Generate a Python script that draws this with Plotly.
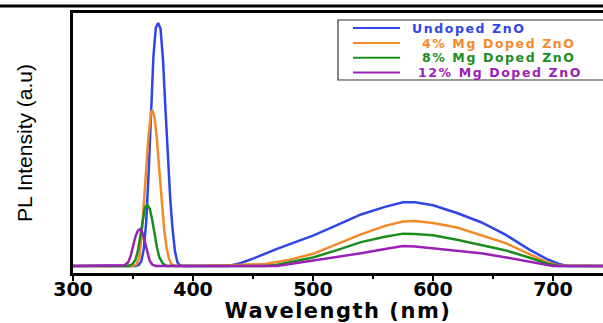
import plotly.graph_objects as go

# ---- data ----
undoped_wl = [300, 352, 355, 357, 359, 361, 363, 365, 367, 369, 371, 373, 375, 377, 379, 381, 383, 385, 387, 389, 392,
              430, 440, 450, 470, 490, 500, 520, 540, 560, 575, 585, 600, 620, 640, 660, 680, 695, 705, 712, 745]
undoped_int = [0, 0, 5, 20, 70, 180, 380, 650, 860, 980, 1000, 975, 850, 650, 450, 280, 150, 60, 15, 3, 0,
               0, 12, 30, 70, 105, 125, 168, 212, 243, 262, 262, 250, 218, 180, 130, 68, 28, 8, 0, 0]

mg4_wl = [300, 350, 353, 355, 357, 359, 361, 363, 365, 366, 368, 370, 372, 374, 376, 378, 380, 382, 385,
          430, 460, 480, 500, 520, 540, 560, 575, 585, 600, 620, 640, 660, 680, 695, 705, 745]
mg4_int = [0, 0, 8, 30, 110, 250, 400, 540, 630, 642, 610, 520, 390, 260, 150, 75, 30, 8, 0,
           3, 8, 25, 50, 90, 130, 165, 183, 185, 177, 158, 128, 95, 50, 15, 2, 0]

mg8_wl = [300, 346, 349, 352, 354, 356, 358, 360, 362, 364, 366, 368, 370, 372, 375, 378,
          460, 470, 490, 500, 520, 540, 560, 575, 585, 600, 620, 640, 660, 680, 695, 705, 745]
mg8_int = [0, 0, 5, 25, 60, 120, 190, 240, 251, 235, 190, 130, 75, 35, 10, 0,
           0, 5, 25, 35, 65, 98, 120, 133, 132, 126, 108, 88, 65, 35, 10, 0, 0]

mg12_wl = [300, 340, 343, 346, 348, 350, 352, 354, 356, 358, 360, 362, 364, 366, 369,
           470, 490, 500, 520, 540, 560, 575, 585, 600, 620, 640, 660, 680, 695, 700, 745]
mg12_int = [0, 0, 3, 15, 40, 80, 120, 145, 152, 135, 95, 50, 20, 6, 0,
            0, 15, 22, 35, 52, 70, 82, 80, 72, 64, 52, 36, 18, 3, 0, 0]

names = ["Undoped ZnO", "4% Mg Doped ZnO", "8% Mg Doped ZnO", "12% Mg Doped ZnO"]
colors = ["#2E46E6", "#F28A2A", "#1C8C1C", "#9A20B8"]
x_ticks = [300, 400, 500, 600, 700]

series = [(undoped_wl, undoped_int), (mg4_wl, mg4_int), (mg8_wl, mg8_int), (mg12_wl, mg12_int)]

# plot area geometry (pixels)
L, T, W, H = 73, 13, 530, 260

def px(xp):
    return (xp - L) / W

def py(yp):
    return 1 - (yp - T) / H

fig = go.Figure()
for (wl, it), nm, c in zip(series, names, colors):
    fig.add_trace(go.Scatter(x=wl, y=it, mode="lines", line=dict(color=c, width=2.5),
                             name=nm, showlegend=False))

fig.update_layout(
    width=603, height=323,
    margin=dict(l=L, r=0, t=T, b=323 - T - H, autoexpand=False),
    paper_bgcolor="white", plot_bgcolor="white",
    font=dict(family="DejaVu Sans", color="black"),
    xaxis=dict(range=[300, 741.7], tickvals=x_ticks, ticktext=[str(v) for v in x_ticks],
               showgrid=False, zeroline=False, showline=True, linecolor="black", linewidth=2.5,
               mirror=True, ticks="outside", ticklen=5, tickwidth=2, tickcolor="black",
               ticklabelstandoff=-8,
               minor=dict(dtick=50, ticks="outside", ticklen=3, tickwidth=1.5, tickcolor="black"),
               tickfont=dict(family="DejaVu Sans", size=19, weight="bold"),
               title=dict(text='<span style="letter-spacing:1.5px"><b>Wavelength (nm)</b></span>',
                          font=dict(family="DejaVu Sans", size=21), standoff=7)),
    yaxis=dict(range=[-29, 1041], showticklabels=False, ticks="", showgrid=False, zeroline=False,
               showline=True, linecolor="black", linewidth=2.5, mirror=True,
               title=dict(text="PL Intensity (a.u)", font=dict(family="Liberation Sans", size=21), standoff=32)),
)

# rule at the very top of the figure
fig.add_shape(type="line", xref="paper", yref="paper", x0=px(0), x1=1.0, y0=py(6), y1=py(6),
              line=dict(color="black", width=3))

# legend box (drawn manually to match the compact layout)
fig.add_shape(type="rect", xref="paper", yref="paper", x0=px(338), x1=px(620), y0=py(80), y1=py(20),
              line=dict(color="#333333", width=1.2), fillcolor="white", layer="above")
row_y = [28, 43, 57.8, 72.6]
text_x = [410, 420, 420, 416]
for nm, c, ry, tx in zip(names, colors, row_y, text_x):
    fig.add_shape(type="line", xref="paper", yref="paper", x0=px(353), x1=px(400), y0=py(ry), y1=py(ry),
                  line=dict(color=c, width=2), layer="above")
    fig.add_annotation(xref="paper", yref="paper", x=px(tx), y=py(ry), xanchor="left", yanchor="middle",
                       text=f'<span style="letter-spacing:1.6px"><b>{nm}</b></span>', showarrow=False,
                       font=dict(family="DejaVu Sans", size=12.5, color=c))

fig.write_html("out.html", config={"displayModeBar": False},
               post_script="document.body.style.margin='0px';document.body.style.overflow='hidden';")
